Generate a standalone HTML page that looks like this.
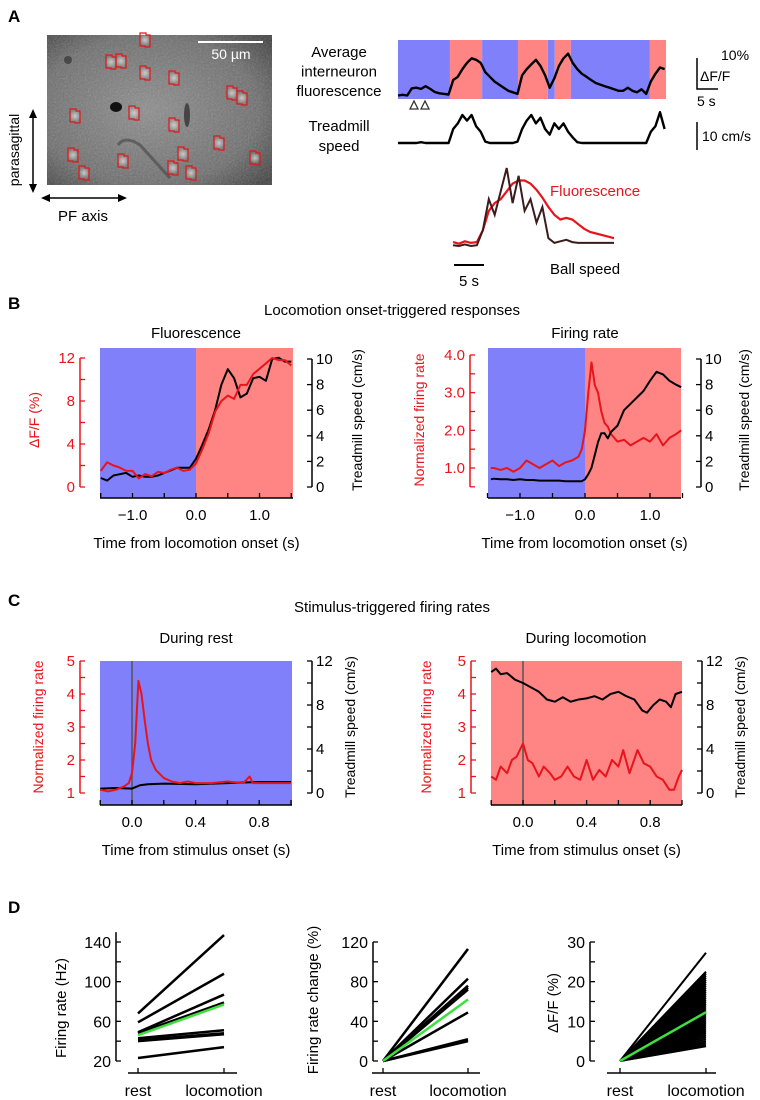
<!DOCTYPE html>
<html><head><meta charset="utf-8">
<style>
html,body{margin:0;padding:0;background:#fff;}
svg{display:block;}
text{font-family:"Liberation Sans Narrow","Liberation Sans",sans-serif;}
.w{font-family:"Liberation Sans",sans-serif;}
</style></head>
<body>
<svg id="fig" width="760" height="1100" viewBox="0 0 760 1100" xmlns="http://www.w3.org/2000/svg">
<defs>
<radialGradient id="g1" cx="0.45" cy="0.5" r="0.7"><stop offset="0" stop-color="#8c8c8c"/><stop offset="0.7" stop-color="#6c6c6c"/><stop offset="1" stop-color="#3e3e3e"/></radialGradient>
<radialGradient id="spot" cx="0.5" cy="0.5" r="0.5"><stop offset="0" stop-color="#ddd"/><stop offset="1" stop-color="#ddd" stop-opacity="0"/></radialGradient>
<filter id="noise" x="0" y="0" width="1" height="1"><feTurbulence type="fractalNoise" baseFrequency="0.6" numOctaves="2" seed="3"/><feColorMatrix type="saturate" values="0"/><feComponentTransfer><feFuncA type="linear" slope="0.35"/></feComponentTransfer></filter>
</defs>
<g>
<text x="8" y="22" font-size="17" font-weight="bold">A</text>
<rect x="47" y="35" width="225" height="150" fill="url(#g1)"/>
<rect x="47" y="35" width="225" height="150" filter="url(#noise)"/>
<ellipse cx="116" cy="107" rx="6" ry="5" fill="#111"/>
<ellipse cx="187" cy="115" rx="3" ry="12" fill="#333" opacity="0.8"/>
<path d="M118 145 Q125 135 140 145 L170 178" stroke="#444" stroke-width="3" fill="none" opacity="0.6"/>
<ellipse cx="68" cy="60" rx="4" ry="4" fill="#333" opacity="0.7"/>
<g id="rois"></g>
<line x1="198" y1="42" x2="263" y2="42" stroke="#fff" stroke-width="2"/>
<text x="231" y="59" font-size="14" fill="#fff" text-anchor="middle" class="w">50 µm</text>
<line x1="33" y1="112" x2="33" y2="190" stroke="#000" stroke-width="1.5"/>
<path d="M29 118 L33 109 L37 118 Z M29 184 L33 193 L37 184 Z" fill="#000"/>
<text transform="translate(19,150) rotate(-90)" font-size="14" text-anchor="middle" class="w">parasagittal</text>
<line x1="44" y1="198" x2="124" y2="198" stroke="#000" stroke-width="1.5"/>
<path d="M50 194 L41 198 L50 202 Z M118 194 L127 198 L118 202 Z" fill="#000"/>
<text x="83" y="221" font-size="15" text-anchor="middle">PF axis</text>
<text x="339" y="57" font-size="15" text-anchor="middle"><tspan x="339">Average</tspan><tspan x="339" dy="19.5">interneuron</tspan><tspan x="339" dy="19.5">fluorescence</tspan></text>
<text x="339" y="131" font-size="15" text-anchor="middle"><tspan x="339">Treadmill</tspan><tspan x="339" dy="20">speed</tspan></text>
<g id="atrace"></g>
<path d="M410 109 L414 101 L418 109 Z M421 109 L425 101 L429 109 Z" fill="none" stroke="#333" stroke-width="1.3"/>
<path d="M697 58 L697 89 L718 89" fill="none" stroke="#000" stroke-width="1.5"/>
<text x="721" y="60" font-size="14" class="w">10%</text>
<text x="700" y="81" font-size="14" class="w">ΔF/F</text>
<text x="697" y="106" font-size="14" class="w">5 s</text>
<line x1="697" y1="122" x2="697" y2="150" stroke="#000" stroke-width="1.5"/>
<text x="702" y="141" font-size="14" class="w">10 cm/s</text>
<g id="inset"></g>
<text x="550" y="196" font-size="15" fill="#e8141c">Fluorescence</text>
<text x="550" y="274" font-size="15">Ball speed</text>
<line x1="454" y1="265" x2="484" y2="265" stroke="#000" stroke-width="2"/>
<text x="469" y="286" font-size="15" text-anchor="middle">5 s</text>
</g>
<text x="8" y="309" font-size="17" font-weight="bold">B</text>
<text x="392" y="315" font-size="15" text-anchor="middle">Locomotion onset-triggered responses</text>
<text x="196" y="338" font-size="15" text-anchor="middle">Fluorescence</text>
<text x="585" y="338" font-size="15" text-anchor="middle">Firing rate</text>
<text x="8" y="606" font-size="17" font-weight="bold">C</text>
<text x="392" y="612" font-size="15" text-anchor="middle">Stimulus-triggered firing rates</text>
<text x="196" y="643" font-size="15" text-anchor="middle">During rest</text>
<text x="586" y="643" font-size="15" text-anchor="middle">During locomotion</text>
<text x="8" y="913" font-size="17" font-weight="bold">D</text>
<g id="charts"></g>
</svg>
<script>
// ---------- Panel A data ----------
const roiX=[145,111,121,145,174,232,242,75,134,174,219,73,123,183,84,173,191,255];
const roiY=[40,62,61,73,78,93,98,116,113,125,143,155,161,154,173,168,173,158];
const aFluo=[0.5,0.7,0.5,2.8,3,2.6,3.5,2.6,1.6,1.2,1.0,0.8,5.5,6.5,9,11,12.5,12,11,8,6.5,5,4,3,2,1.5,1,7,9,10.5,12,10,7,3,6,10,12.5,14,11,9,7.5,6.5,5.5,4.5,4,3.5,3,2.5,2,2,3,2,1.5,2.5,1,5,7.5,9.5,9];
const aSpeed=[0,0,0,0,0,0.3,0,0,0,0,0,0,5,7,10,8,10,6,4,0.5,0,0,0,0,0,0,0.5,5,8,10,7,9,5,3,7,5,7,4,2,0.3,0,0,0,0,0,0,0,0,0,0,0,0,0,0,0,4,6,11,5];
const segStart=[0,11.3,18.3,26.1,32.6,34.1,37.6,54.8];
const segEnd=[11.3,18.3,26.1,32.6,34.1,37.6,54.8,58.3];
const segState=['rest','loco','rest','loco','rest','loco','rest','loco'];
const insetBall=[1,0,2,0,1,20,60,40,70,100,55,90,45,60,30,50,10,4,6,8,5,4,4,4,4,4,4,4];
const insetFluo=[5,3,6,4,5,20,45,55,60,70,80,84,84,80,72,62,50,40,34,36,34,28,22,18,16,14,12,10];
// ---------- Panel B data ----------
const bFT=[-1.5,-1.4,-1.3,-1.2,-1.1,-1.0,-0.9,-0.8,-0.7,-0.6,-0.5,-0.4,-0.3,-0.2,-0.1,0,0.1,0.2,0.3,0.4,0.5,0.6,0.7,0.8,0.9,1.0,1.1,1.2,1.3,1.4,1.5];
const bFluo=[1.5,2.3,2,1.8,1.5,1.5,0.8,1.2,1.0,1.4,1.3,1.6,1.8,1.5,1.6,2.2,3.5,5,7,8,8.5,8.2,9.5,9.5,10.5,11,11.5,12,11.8,11.8,11.3];
const bFSpeed=[0.7,0.5,0.9,1.0,1.1,0.8,0.9,0.8,0.8,0.9,1.1,1.3,1.5,1.5,1.5,2.2,3.3,4.5,6,8,9.2,8.5,7,7.3,8.5,8.6,8.3,10,10.1,9.8,9.8];
const bRT=[-1.45,-1.4,-1.3,-1.2,-1.1,-1.0,-0.9,-0.8,-0.7,-0.6,-0.5,-0.4,-0.3,-0.2,-0.1,-0.05,0,0.05,0.1,0.15,0.2,0.25,0.3,0.35,0.4,0.5,0.6,0.7,0.8,0.9,1.0,1.1,1.2,1.3,1.4,1.48];
const bRate=[1.0,1.0,0.95,1.0,0.9,1.0,1.2,1.1,1.0,1.1,1.2,1.05,1.15,1.2,1.3,1.5,2.0,3.0,3.8,3.2,3.0,2.5,2.2,2.1,1.9,1.7,1.75,1.6,1.7,1.8,1.7,1.9,1.6,1.8,1.9,2.0];
const bRSpeed=[0.6,0.65,0.6,0.6,0.55,0.6,0.55,0.55,0.5,0.5,0.5,0.5,0.45,0.45,0.45,0.45,0.6,1.0,1.5,2.5,3.5,4.2,4.2,3.8,4.3,4.8,6,6.5,7,7.5,8.3,9,8.8,8.3,8.0,7.8];
// ---------- Panel C data ----------
const cLT=[-0.2,-0.15,-0.1,-0.05,-0.02,0,0.02,0.04,0.06,0.08,0.1,0.12,0.15,0.2,0.25,0.3,0.35,0.4,0.5,0.6,0.7,0.74,0.76,0.8,0.9,1.0];
const cLRate=[1.1,1.05,1.1,1.2,1.3,1.6,2.5,4.4,4.0,3.2,2.5,2.0,1.7,1.45,1.35,1.3,1.35,1.3,1.3,1.35,1.3,1.5,1.3,1.3,1.3,1.3];
const cLST=[-0.2,-0.1,0,0.05,0.1,0.2,0.4,0.6,0.8,1.0];
const cLSpeed=[0.4,0.45,0.4,0.7,0.8,0.85,0.8,0.9,1.0,1.0];
const cRT=[-0.2,-0.17,-0.14,-0.1,-0.07,-0.04,0,0.03,0.06,0.1,0.13,0.17,0.2,0.24,0.28,0.32,0.36,0.4,0.44,0.48,0.52,0.56,0.6,0.63,0.67,0.72,0.76,0.8,0.84,0.88,0.92,0.95,0.98,1.0];
const cRRate=[1.5,1.4,1.8,1.6,2.0,2.1,2.5,2.0,1.9,1.5,1.8,1.6,1.4,1.5,1.8,1.5,1.4,2.0,1.4,1.7,1.5,2.0,1.8,2.3,1.6,2.3,1.9,1.8,1.5,1.4,1.1,1.1,1.5,1.7];
const cRST=[-0.2,-0.17,-0.14,-0.1,-0.05,0,0.05,0.1,0.15,0.2,0.25,0.3,0.35,0.4,0.45,0.5,0.55,0.6,0.65,0.7,0.75,0.78,0.82,0.86,0.9,0.93,0.96,1.0];
const cRSpeed=[11,11.3,10.8,10.9,10.3,10,9.6,9.2,8.5,8.3,8.7,8.3,8.5,8.6,8.8,8.5,9.0,9.2,8.8,8.5,7.5,7.3,8.0,8.5,8.3,7.8,9.0,9.2];
// ---------- Panel D data ----------
const dCats=['rest','locomotion'];
const d1Rest=[68,59,49,48,43,41,40,23];
const d1Loco=[147,108,87,79,51,48,47,34];
const d1Mean=[46,77];
const d2Loco=[113,83,76,74,72,49,22,20,21];
const d2Mean=62;
const d3Loco=[27.3,22.5,22,21.5,21,20.5,20,19.5,19,18.5,18,17.5,17,16.5,16,15.5,15,14.5,14,13.5,13,12.5,12,11.5,11,10.5,10,9.5,9,8.5,8,7.5,7,6.5,6,5.5,5,4.5,4,3.7];
const d3Mean=12.3;

const NS='http://www.w3.org/2000/svg';
function mk(tag,attrs,parent){const e=document.createElementNS(NS,tag);for(const k in attrs)e.setAttribute(k,attrs[k]);parent.appendChild(e);return e;}
function lin(d0,d1,r0,r1){return v=>r0+(v-d0)/(d1-d0)*(r1-r0);}
function pathFrom(xs,ys,sx,sy){let d='';for(let i=0;i<xs.length;i++){d+=(i?'L':'M')+sx(xs[i]).toFixed(1)+' '+sy(ys[i]).toFixed(1);}return d;}
const RED='#e8141c',BLUE='#8080fa',PINK='#ff8484';

// ROIs
const rg=document.getElementById('rois');
for(let i=0;i<roiX.length;i++){
  const s=mk('ellipse',{cx:roiX[i],cy:roiY[i],rx:6,ry:6,fill:'url(#spot)',opacity:0.8},rg);
  
  
  const r=mk('path',{d:`M${roiX[i]-5} ${roiY[i]-7}h6v2h4v12h-5v-1h-5z`,fill:'none',stroke:'#e01818','stroke-width':1.2},rg);
  
  
}
// A traces
const at=document.getElementById('atrace');
const axT=lin(0,58.3,398,666);
for(let i=0;i<segStart.length;i++){
  const r=mk('rect',{x:axT(segStart[i]),y:40,width:axT(segEnd[i])-axT(segStart[i]),height:59,fill:segState[i]==='loco'?PINK:BLUE},at);
  
  
}
const aIdx=aFluo.map((v,i)=>i);
const afy=lin(0,10,97,66);
const p1=mk('path',{d:pathFrom(aIdx,aFluo,axT,afy),fill:'none',stroke:'#000','stroke-width':2.4,'stroke-linejoin':'round'},at);


const asy=lin(0,10,143,115);
const sIdx=aSpeed.map((v,i)=>i);
const p2=mk('path',{d:pathFrom(sIdx,aSpeed,axT,asy),fill:'none',stroke:'#000','stroke-width':2.4,'stroke-linejoin':'round'},at);


// inset
const ig=document.getElementById('inset');
const ix=lin(0,27,453,614), iy=lin(0,100,246,168);
const iIdx=insetFluo.map((v,i)=>i);
const p3=mk('path',{d:pathFrom(iIdx,insetFluo,ix,iy),fill:'none',stroke:RED,'stroke-width':2.2},ig);


const p4=mk('path',{d:pathFrom(iIdx,insetBall,ix,iy),fill:'none',stroke:'#3a1c1c','stroke-width':2},ig);



const cg=document.getElementById('charts');
function txt(x,y,s,opts,name){const t=mk('text',Object.assign({x:x,y:y,'font-size':14},opts||{}),cg);t.textContent=s;return t;}
function ln(x1,y1,x2,y2,col,w,name){const l=mk('line',{x1:x1,y1:y1,x2:x2,y2:y2,stroke:col,'stroke-width':w||1.3},cg);return l;}

function dual(c){
  const sx=lin(0,1,c.x0,c.x0+c.xs);
  if(c.split!==null){
    const b=mk('rect',{x:c.bx0,y:c.by0,width:sx(c.split)-c.bx0,height:c.by1-c.by0,fill:BLUE},cg);
    
    
    const r=mk('rect',{x:sx(c.split),y:c.by0,width:c.bx1-sx(c.split),height:c.by1-c.by0,fill:PINK},cg);
    
    
  } else {
    const b=mk('rect',{x:c.bx0,y:c.by0,width:c.bx1-c.bx0,height:c.by1-c.by0,fill:c.bg},cg);
    
    
  }
  if(c.vline){ln(sx(0),c.by0,sx(0),c.by1,'#555',1.5,'stimulus-onset-line');}
  ln(c.bx0,c.by1,c.bx1,c.by1,'#000',1.5,'x-axis');
  c.xTicks.forEach(v=>ln(sx(v),c.by1,sx(v),c.by1-5,'#000',1.3,'x-tick'));
  c.xLabels.forEach((v,i)=>txt(sx(v),c.by1+22,c.xLabelText[i],{'text-anchor':'middle','font-size':15},'x-tick-label'));
  txt((c.bx0+c.bx1)/2,c.by1+50,c.xTitle,{'text-anchor':'middle','font-size':15},'x-axis-title');
  const ly=lin(c.lMin,c.lMax,c.lY0,c.lY1);
  ln(c.lx,ly(c.lAxMin),c.lx,ly(c.lMax),RED,1.5,'left-y-axis');
  c.lTicks.forEach(v=>ln(c.lx,ly(v),c.lx+5,ly(v),RED,1.3,'left-y-tick'));
  c.lLabels.forEach((v,i)=>txt(c.lx-5,ly(v)+5,c.lLabelText[i],{'text-anchor':'end',fill:RED,'font-size':15},'left-y-tick-label'));
  txt(0,0,c.lTitle,{'text-anchor':'middle',fill:RED,'font-size':14,class:'w',transform:`translate(${c.ltx},${c.lty}) rotate(-90)`},'left-y-axis-title');
  const ry=lin(0,c.rMax,c.rY0,c.rY1);
  ln(c.rx,ry(0),c.rx,ry(c.rMax),'#000',1.5,'right-y-axis');
  c.rTicks.forEach(v=>ln(c.rx,ry(v),c.rx-5,ry(v),'#000',1.3,'right-y-tick'));
  c.rLabels.forEach((v,i)=>txt(c.rx+4,ry(v)+5,c.rLabelText[i],{'font-size':15},'right-y-tick-label'));
  txt(0,0,'Treadmill speed (cm/s)',{'text-anchor':'middle','font-size':14,class:'w',transform:`translate(${c.rtx},${c.lty}) rotate(-90)`},'right-y-axis-title');
  const s1=mk('path',{d:pathFrom(c.t1,c.v1,sx,ly),fill:'none',stroke:RED,'stroke-width':2,'stroke-linejoin':'round'},cg);
  
  
  const s2=mk('path',{d:pathFrom(c.t2,c.v2,sx,ry),fill:'none',stroke:'#000','stroke-width':2,'stroke-linejoin':'round'},cg);
  
  
  if(c.order==='redTop'){cg.appendChild(s1);}
}
const bxT=[-1.5,-1.0,-0.5,0,0.5,1.0,1.5];
dual({x0:196,xs:63.5,bx0:100,bx1:293,by0:348,by1:498,split:0,xTicks:bxT,xLabels:[-1,0,1],xLabelText:['\u22121.0','0.0','1.0'],xTitle:'Time from locomotion onset (s)',
 lx:80,lMin:0,lMax:12,lAxMin:0,lY0:487,lY1:358,lTicks:[0,2,4,6,8,10,12],lLabels:[0,4,8,12],lLabelText:['0','4','8','12'],lTitle:'ΔF/F (%)',ltx:39,lty:420,
 rx:312,rMax:10,rY0:487,rY1:359,rTicks:[0,2,4,6,8,10],rLabels:[0,2,4,6,8,10],rLabelText:['0','2','4','6','8','10'],rtx:362,
 t1:bFT,v1:bFluo,t2:bFT,v2:bFSpeed,n1:'fluorescence-line',order:'redTop'});
dual({x0:585,xs:65,bx0:488,bx1:681,by0:348,by1:498,split:0,xTicks:bxT,xLabels:[-1,0,1],xLabelText:['\u22121.0','0.0','1.0'],xTitle:'Time from locomotion onset (s)',
 lx:470,lMin:1,lMax:4,lAxMin:0.5,lY0:468,lY1:355,lTicks:[0.5,1,1.5,2,2.5,3,3.5,4],lLabels:[1,2,3,4],lLabelText:['1.0','2.0','3.0','4.0'],lTitle:'Normalized firing rate',ltx:424,lty:420,
 rx:701,rMax:10,rY0:487,rY1:359,rTicks:[0,2,4,6,8,10],rLabels:[0,2,4,6,8,10],rLabelText:['0','2','4','6','8','10'],rtx:749,
 t1:bRT,v1:bRate,t2:bRT,v2:bRSpeed,n1:'firing-rate-line'});
const cxT=[-0.2,0,0.2,0.4,0.6,0.8,1.0];
dual({x0:132,xs:159,bx0:100,bx1:292,by0:661,by1:805,split:null,bg:BLUE,vline:true,xTicks:cxT,xLabels:[0,0.4,0.8],xLabelText:['0.0','0.4','0.8'],xTitle:'Time from stimulus onset (s)',
 lx:80,lMin:1,lMax:5,lAxMin:1,lY0:793,lY1:661,lTicks:[1,1.5,2,2.5,3,3.5,4,4.5,5],lLabels:[1,2,3,4,5],lLabelText:['1','2','3','4','5'],lTitle:'Normalized firing rate',ltx:43,lty:727,
 rx:312,rMax:12,rY0:793,rY1:661,rTicks:[0,2,4,6,8,10,12],rLabels:[0,4,8,12],rLabelText:['0','4','8','12'],rtx:355,
 t1:cLT,v1:cLRate,t2:cLST,v2:cLSpeed,n1:'firing-rate-line',order:'redTop'});
dual({x0:523,xs:159,bx0:491,bx1:682,by0:661,by1:805,split:null,bg:PINK,vline:true,xTicks:cxT,xLabels:[0,0.4,0.8],xLabelText:['0.0','0.4','0.8'],xTitle:'Time from stimulus onset (s)',
 lx:471,lMin:1,lMax:5,lAxMin:1,lY0:793,lY1:661,lTicks:[1,1.5,2,2.5,3,3.5,4,4.5,5],lLabels:[1,2,3,4,5],lLabelText:['1','2','3','4','5'],lTitle:'Normalized firing rate',ltx:431,lty:727,
 rx:702,rMax:12,rY0:793,rY1:661,rTicks:[0,2,4,6,8,10,12],rLabels:[0,4,8,12],rLabelText:['0','4','8','12'],rtx:745,
 t1:cRT,v1:cRRate,t2:cRST,v2:cRSpeed,n1:'firing-rate-line'});

function dplot(c){
  const sy=lin(c.yMin,c.yMax,1061,942);
  ln(c.ax,sy(c.yMin),c.ax,sy(c.yTop),'#000',1.5,'y-axis');
  c.yTicks.forEach(v=>ln(c.ax,sy(v),c.ax+5,sy(v),'#000',1.3,'y-tick'));
  c.yLabels.forEach(v=>txt(c.ax-5,sy(v)+6,String(v),{'text-anchor':'end','font-size':16},'y-tick-label'));
  txt(0,0,c.title,{'text-anchor':'middle','font-size':15,class:'w',transform:`translate(${c.tx},${c.ty}) rotate(-90)`},'y-axis-title');
  ln(c.xl0,1073,c.xl1,1073,'#000',1.5,'x-axis');
  const xs=[c.xr,c.xlo];
  xs.forEach(x=>ln(x,1073,x,1068,'#000',1.3,'x-tick'));
  dCats.forEach((s,i)=>txt(xs[i],1096,s,{'text-anchor':'middle','font-size':16},'category-label'));
  for(let i=0;i<c.lo.length;i++){
    const r=c.rest?c.rest[i]:0;
    const l=mk('line',{x1:c.xr,y1:sy(r),x2:c.xlo,y2:sy(c.lo[i]),stroke:'#000','stroke-width':c.w},cg);
    
    
  }
  const g=mk('line',{x1:c.xr,y1:sy(c.mean[0]),x2:c.xlo,y2:sy(c.mean[1]),stroke:'#3de03d','stroke-width':2.5},cg);
  
  
}
dplot({yMin:20,yMax:140,yTop:150,ax:116,yTicks:[20,40,60,80,100,120,140],yLabels:[20,60,100,140],title:'Firing rate (Hz)',tx:66,ty:1008,xl0:128,xl1:237,xr:138,xlo:224,rest:d1Rest,lo:d1Loco,mean:d1Mean,w:2.5});
dplot({yMin:0,yMax:120,yTop:120,ax:373,yTicks:[0,20,40,60,80,100,120],yLabels:[0,40,80,120],title:'Firing rate change (%)',tx:318,ty:1000,xl0:372,xl1:480,xr:383,xlo:468,rest:null,lo:d2Loco,mean:[0,d2Mean],w:2.5});
dplot({yMin:0,yMax:30,yTop:30,ax:590,yTicks:[0,5,10,15,20,25,30],yLabels:[0,10,20,30],title:'ΔF/F (%)',tx:558,ty:1003,xl0:607,xl1:716,xr:620,xlo:706,rest:null,lo:d3Loco,mean:[0,d3Mean],w:2});
</script>
</body></html>
